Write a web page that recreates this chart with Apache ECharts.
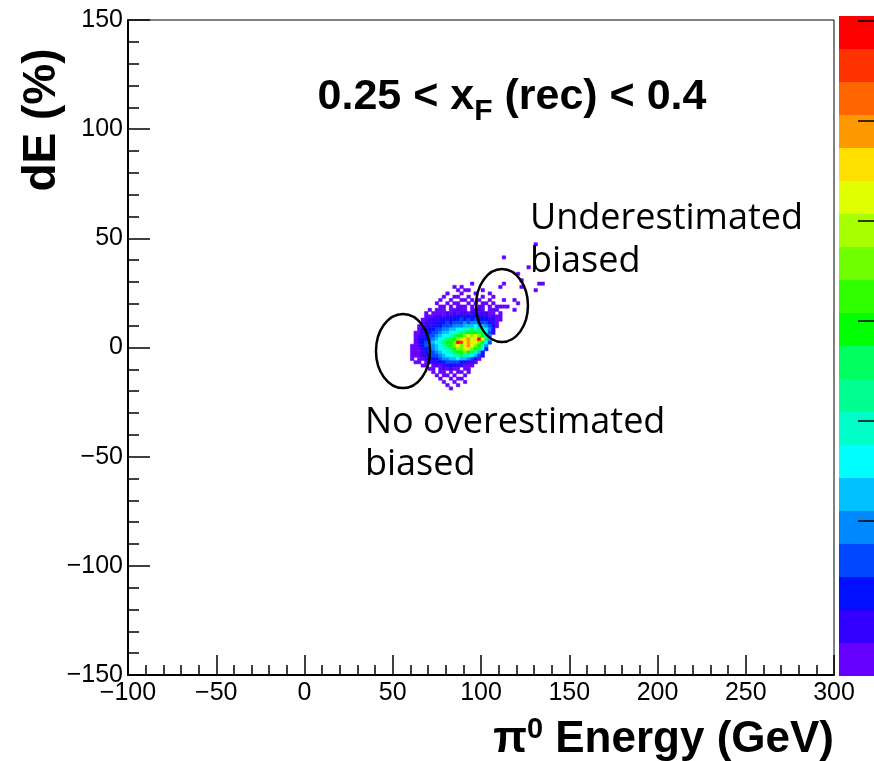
<!DOCTYPE html>
<html><head><meta charset="utf-8">
<script src="https://cdn.jsdelivr.net/npm/echarts@6/dist/echarts.min.js"></script>
<style>html,body{margin:0;padding:0;background:#fff}#c{width:874px;height:761px}</style>
</head><body><div id="c"></div>
<script>
// ---- axes ----
const xRange = [-100, 300];
const xStep = 50;
const yRange = [-150, 150];
const yStep = 50;
// ---- histogram binning ----
const xBinStart = 60, xBinWidth = 2;
const yBinStart = -21, yBinHeight = 1.5;
// ---- cell contents: level code -> count ----
const levelCodes = '123456789abcdefg';
const levelCounts = [1, 5, 8, 12, 15, 18, 22, 26, 31, 35, 42, 48, 51, 55, 62, 65];
// [row j, first column i, codes...]  ('.' = empty bin)
const rowSegments = [
  [45,35,"1"],
  [41,26,"1"],
  [38,33,"1"],
  [36,30,"1"],
  [34,31,"1"],
  [33,17,"1"],[33,26,"1"],[33,36,"11"],
  [32,12,"1.1"],[32,25,"1"],[32,31,"1"],
  [31,13,"1.11...1"],[31,35,"1"],
  [30,10,"1...1...1...1"],
  [29,9,"1..11..1...1..1"],
  [28,8,"1..1..11.1.1..1...1..1"],
  [27,7,"1..1.11..1.1.11.1......1"],
  [26,8,"11.1.111.1.11.1.1111"],
  [25,5,"1.111.11211.1121.111"],[25,29,"1"],
  [24,4,"1.111121212212212211.1"],
  [23,4,"1112212223223232221211"],
  [22,3,"11222232333434343332211"],
  [21,3,"1222333434445455444321"],
  [20,2,"11222334445556667665431"],
  [19,2,"1223344556677889898752"],
  [18,1,"112334456677899aaa99742"],
  [17,1,"122344567789aabcbcba85"],
  [16,1,"12334567899abcdecdgc96"],
  [15,1,"123456789aabgfcedcba74"],
  [14,0,"11234556789abcbdecba85"],
  [13,0,"111234567889abbcdba973"],
  [12,0,"1112344567889aaba9863"],
  [11,0,"111223445677889887642"],
  [10,0,"1.112233455667665431"],
  [9,1,"11.122233444433221"],
  [8,3,"11.121223222111"],
  [7,5,"11.121211.11"],
  [6,6,"1.11.1.11.1"],
  [5,7,"1.11.1..1"],
  [4,8,"1..1.11"],
  [3,9,"1..1..1"],
  [2,10,"1..1"],
  [1,11,"1"]
];
// ---- colour scale ----
const zRange = [0, 66];
const zTicks = [15.5, 25.5, 35.5, 45.5, 55.5, 65.5];
const paletteColors = ['#6600ff','#3300ff','#0010ff','#0048ff','#0088ff','#00c0ff','#00ffff','#00ffc8','#00ff90','#00ff60',
  '#00ff00','#30ff00','#70ff00','#a8ff00','#e0ff00','#ffe000','#ff9900','#ff6600','#ff3300','#ff0000'];
// ---- annotations (data units) ----
const ellipses = [
  {cx: 55.8, cy: -1.6, rx: 15.3, ry: 17.0},
  {cx: 111.9, cy: 19.2, rx: 14.7, ry: 16.7}
];

const cells = [];
rowSegments.forEach(function (seg) {
  const j = seg[0], i0 = seg[1], codes = seg[2];
  for (let k = 0; k < codes.length; k++) {
    const ch = codes[k];
    if (ch === '.') continue;
    cells.push([xBinStart + (i0 + k) * xBinWidth, yBinStart + j * yBinHeight, levelCounts[levelCodes.indexOf(ch)]]);
  }
});

const fmt = function (v) { return String(v).replace('-', '\u2212'); };
const tickFont = 'Liberation Sans';

const chart = echarts.init(document.getElementById('c'), null, {renderer: 'canvas'});
chart.setOption({
  animation: false,
  backgroundColor: '#fff',
  grid: [
    {left: 128, top: 20, width: 706, height: 655, show: true, borderColor: '#000', borderWidth: 1, backgroundColor: '#fff'},
    {left: 839, top: 16, width: 35, height: 660, show: false}
  ],
  xAxis: [
    {type: 'value', gridIndex: 0, min: xRange[0], max: xRange[1], interval: xStep,
      axisLine: {show: true, onZero: false, lineStyle: {color: '#000', width: 2}},
      axisTick: {show: true, inside: true, length: 20, lineStyle: {color: '#000', width: 1.5}},
      minorTick: {show: true, splitNumber: 5, length: 10, lineStyle: {color: '#000', width: 1.5}},
      splitLine: {show: false},
      axisLabel: {show: true, margin: 6, color: '#000', fontSize: 25, fontFamily: tickFont, formatter: fmt, showMinLabel: true, showMaxLabel: true}},
    {type: 'value', gridIndex: 1, show: false, min: 0, max: 1}
  ],
  yAxis: [
    {type: 'value', gridIndex: 0, min: yRange[0], max: yRange[1], interval: yStep,
      axisLine: {show: true, onZero: false, lineStyle: {color: '#000', width: 2}},
      axisTick: {show: true, inside: true, length: 22, lineStyle: {color: '#000', width: 1.5}},
      minorTick: {show: true, splitNumber: 5, length: 11, lineStyle: {color: '#000', width: 1.5}},
      splitLine: {show: false},
      axisLabel: {show: true, margin: 5, color: '#000', fontSize: 25, fontFamily: tickFont, formatter: fmt, showMinLabel: true, showMaxLabel: true}},
    {type: 'value', gridIndex: 1, position: 'right', min: zRange[0], max: zRange[1], z: 20,
      axisLine: {show: false, onZero: false},
      axisTick: {show: true, inside: true, length: 16, customValues: zTicks, lineStyle: {color: '#000', width: 1.5}},
      axisLabel: {show: false},
      splitLine: {show: false}}
  ],
  visualMap: {
    type: 'piecewise', min: zRange[0], max: zRange[1], splitNumber: 20,
    dimension: 2, seriesIndex: 0, orient: 'vertical', z: 2,
    left: 839, top: 16, itemWidth: 40, itemHeight: 33, itemGap: 0, padding: 0,
    itemSymbol: 'rect', showLabel: false, selectedMode: false, hoverLink: false,
    inRange: {color: paletteColors}
  },
  series: [{
    type: 'custom', xAxisIndex: 0, yAxisIndex: 0, clip: true,
    data: cells,
    encode: {x: 0, y: 1},
    renderItem: function (params, api) {
      const x0 = api.value(0), y0 = api.value(1);
      const p0 = api.coord([x0, y0 + yBinHeight]);
      const p1 = api.coord([x0 + xBinWidth, y0]);
      const color = api.visual('color');
      return {type: 'rect', shape: {x: p0[0], y: p0[1], width: p1[0] - p0[0], height: p1[1] - p0[1]},
        style: {fill: color, stroke: color, lineWidth: 0.5}};
    }
  }]
});

const graphics = [
  {type: 'text', x: 512, y: 97, z: 100, style: {
    text: '0.25 < x{sub|F} (rec) < 0.4', fill: '#000', align: 'center', verticalAlign: 'middle',
    font: 'bold 43px "Liberation Sans"',
    rich: {sub: {fontSize: 30, fontWeight: 'bold', fontFamily: 'Liberation Sans', padding: [30, 0, 0, 0], fill: '#000'}}
  }},
  {type: 'text', x: 530, y: 240, z: 100, style: {
    text: 'Underestimated\nbiased', fill: '#000', align: 'left', verticalAlign: 'middle',
    font: '36px "Open Sans"', lineHeight: 43
  }},
  {type: 'text', x: 365, y: 444, z: 100, style: {
    text: 'No overestimated\nbiased', fill: '#000', align: 'left', verticalAlign: 'middle',
    font: '36px "Open Sans"', lineHeight: 42
  }},
  {type: 'text', x: 42, y: 120, rotation: Math.PI / 2, z: 100, style: {
    text: 'dE (%)', fill: '#000', align: 'center', verticalAlign: 'middle',
    font: 'bold 46px "Liberation Sans"'
  }},
  {type: 'text', x: 834, y: 740, z: 100, style: {
    text: '\u03c0{sup|0} Energy (GeV)', fill: '#000', align: 'right', verticalAlign: 'middle',
    font: 'bold 44px "Liberation Sans"',
    rich: {sup: {fontSize: 29, fontWeight: 'bold', fontFamily: 'Liberation Sans', padding: [0, 0, 20, 0], fill: '#000'}}
  }}
];
ellipses.forEach(function (e) {
  const c = chart.convertToPixel({gridIndex: 0}, [e.cx, e.cy]);
  const r = chart.convertToPixel({gridIndex: 0}, [e.cx + e.rx, e.cy + e.ry]);
  graphics.push({type: 'ellipse', z: 90, shape: {cx: c[0], cy: c[1], rx: Math.abs(r[0] - c[0]), ry: Math.abs(r[1] - c[1])},
    style: {fill: 'none', stroke: '#000', lineWidth: 2.5}});
});
chart.setOption({graphic: graphics});
</script>
</body></html>
